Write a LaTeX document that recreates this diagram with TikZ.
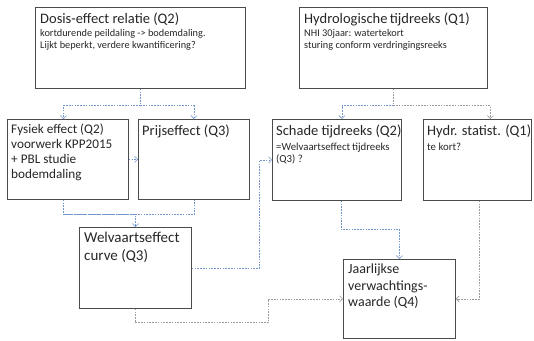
\documentclass[tikz,border=0pt]{standalone}
\usepackage{fontspec}
\setmainfont{Carlito}
\usetikzlibrary{arrows.meta}
\definecolor{cblue}{RGB}{115,150,205}
\definecolor{cgrey}{RGB}{155,155,155}
\definecolor{cbox}{RGB}{75,75,75}
\tikzset{
  box/.style={draw=cbox,line width=0.8pt,anchor=north west,inner sep=0pt},
  txt/.style={anchor=north west,inner sep=0pt,align=left,text=black!85},
  bcon/.style={draw=cblue,line width=0.7pt,dash pattern=on 1.6pt off 1.2pt,-{Straight Barb[length=3pt,width=6pt,line width=0.6pt]}},
  gcon/.style={draw=cgrey,line width=0.7pt,dash pattern=on 1.6pt off 1.2pt,-{Straight Barb[length=3pt,width=6pt,line width=0.6pt]}},
  ttl/.style={font=\fontsize{14.5}{17}\selectfont},
}
\newcommand{\ttlfont}{\fontsize{14.5}{17}\selectfont}
\newcommand{\bodyfont}{\fontsize{10.3}{13}\selectfont}
\begin{document}
\begin{tikzpicture}[x=1pt,y=-1pt]
\useasboundingbox (0,0) rectangle (534,340);
% boxes
\node[box,minimum width=210,minimum height=81] (dosis) at (35,7) {};
\node[box,minimum width=188,minimum height=81] (hydro) at (299,7) {};
\node[box,minimum width=121,minimum height=80] (fysiek) at (7,119) {};
\node[box,minimum width=111,minimum height=80] (prijs) at (138,119) {};
\node[box,minimum width=129,minimum height=81] (schade) at (272,119) {};
\node[box,minimum width=108,minimum height=81] (hydr) at (423,119) {};
\node[box,minimum width=112,minimum height=81] (welv) at (79,227) {};
\node[box,minimum width=112,minimum height=79] (jaar) at (343,259) {};
% texts
\node[txt] (tdosis) at (40,13) {{\ttlfont Dosis-effect relatie (Q2)}\\[0.5pt]
 {\bodyfont kortdurende peildaling -> bodemdaling.}\\
 {\bodyfont Lijkt beperkt, verdere kwantificering?}};
\node[txt] (thydro) at (304,13) {{\ttlfont Hydrologische\,tijdreeks (Q1)}\\[0.5pt]
 {\bodyfont NHI 30jaar: watertekort}\\
 {\bodyfont sturing conform verdringingsreeks}};
\node[txt,font=\fontsize{13.2}{15}\selectfont] (tfysiek) at (11,124) {Fysiek effect  (Q2)\\ voorwerk  KPP2015\\ + PBL studie\\ bodemdaling};
\node[txt,ttl] (tprijs) at (142,125) {Prijseffect (Q3)};
\node[txt] (tschade) at (276,125) {{\ttlfont Schade tijdreeks (Q2)}\\[3pt]
 {\fontsize{10.8}{14}\selectfont =Welvaartseffect\,tijdreeks}\\
 {\fontsize{10.8}{14}\selectfont (Q3) ?}};
\node[txt] (thydr) at (427,125) {{\ttlfont Hydr. statist. (Q1)}\\[3pt]
 {\fontsize{10.8}{14}\selectfont te kort?}};
\node[txt,font=\fontsize{15}{18}\selectfont] (twelv) at (84,232) {Welvaartseffect\\ curve (Q3)};
\node[txt,font=\fontsize{14}{16.5}\selectfont] (tjaar) at (348,264) {Jaarlijkse\\ verwachtings-\\ waarde (Q4)};
% connectors
\draw[bcon] (dosis.south) -- ++(0,17) -| ([xshift=-4.5pt]fysiek.north);
\draw[bcon] (dosis.south) -- ++(0,17) -| (prijs.north);
\draw[bcon] (hydro.south) -- ++(0,17) -| ([xshift=5pt]schade.north);
\draw[gcon] (hydro.south) -- ++(0,17) -| ([xshift=13pt]hydr.north);
\draw[bcon] (fysiek.east) -- (prijs.west);
\draw[bcon,-] ([xshift=-4.5pt]fysiek.south) -- ++(0,15) -| (prijs.south);
\draw[bcon] ([xshift=-4.5pt]fysiek.south) ++(0,15) -| (welv.north);
\draw[bcon] (welv.east) -- ++(68,0) |- (schade.west);
\draw[bcon] ([xshift=4.5pt]schade.south) -- ++(0,29) -| (jaar.north);
\draw[gcon] ([xshift=2pt]hydr.south) |- (jaar.east);
\draw[gcon] (welv.south) -- ++(0,14) -- ++(133,0) |- (jaar.west);
\end{tikzpicture}
\end{document}
